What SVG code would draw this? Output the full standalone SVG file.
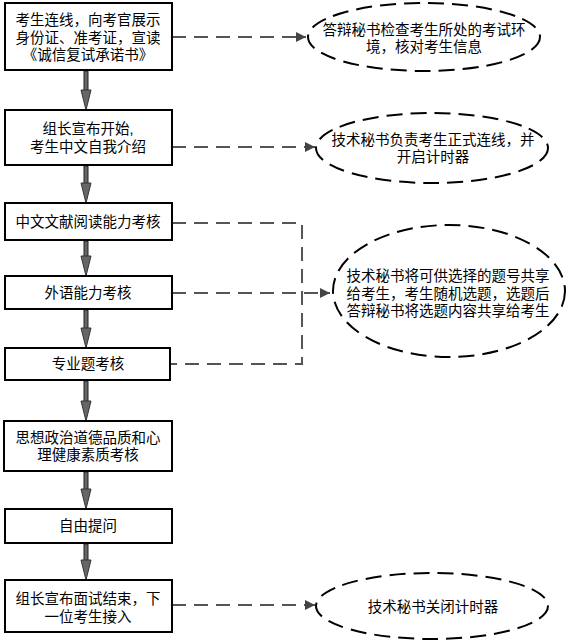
<svg xmlns="http://www.w3.org/2000/svg" width="566" height="641" viewBox="0 0 566 641">
<style>
.box{fill:#fff;stroke:#000;stroke-width:2}
.ell{fill:#fff;stroke:#000;stroke-width:2;stroke-dasharray:16 8}
.t{font-family:"Liberation Sans","Noto Sans CJK SC",sans-serif;font-size:14.5px;fill:#000;text-anchor:middle;dominant-baseline:central}
.dash{fill:none;stroke:#555;stroke-width:2;stroke-dasharray:14 8}
.shaft{fill:#666;stroke:#222;stroke-width:1}
.head{fill:#666;stroke:#333;stroke-width:1}
</style>
<defs>
<marker id="ah" viewBox="0 0 10 10" refX="10" refY="5" markerWidth="5" markerHeight="5" orient="auto" markerUnits="strokeWidth">
<path d="M0,0 L10,5 L0,10 Z" fill="#444"/>
</marker>
</defs>
<rect width="566" height="641" fill="#fff"/>
<g id="connectors">
<path class="dash" d="M172 37 H306" marker-end="url(#ah)"/>
<path class="dash" d="M172 147 H315" marker-end="url(#ah)"/>
<path class="dash" d="M172 223 H302 V364 H170"/>
<path class="dash" d="M172 293 H330" marker-end="url(#ah)"/>
<path class="dash" d="M172 605 H315" marker-end="url(#ah)"/>
<g id="flow-arrows">
<rect class="shaft" x="84" y="71" width="4" height="20"/><path class="head" d="M81 90 H91 L86 110 Z"/>
<rect class="shaft" x="84" y="166" width="4" height="18"/><path class="head" d="M81 183 H91 L86 203 Z"/>
<rect class="shaft" x="84" y="241" width="4" height="16"/><path class="head" d="M81 256 H91 L86 276 Z"/>
<rect class="shaft" x="84" y="310" width="4" height="19"/><path class="head" d="M81 328 H91 L86 348 Z"/>
<rect class="shaft" x="84" y="381" width="4" height="21"/><path class="head" d="M81 401 H91 L86 421 Z"/>
<rect class="shaft" x="84" y="472" width="4" height="18"/><path class="head" d="M81 489 H91 L86 509 Z"/>
<rect class="shaft" x="84" y="544" width="4" height="17"/><path class="head" d="M81 560 H91 L86 580 Z"/>
</g>
</g>
<g id="n1"><rect class="box" x="5" y="3" width="167" height="67"/>
<text class="t"><tspan x="88" y="20">考生连线，向考官展示</tspan><tspan x="88" y="37.5">身份证、准考证，宣读</tspan><tspan x="88" y="55">《诚信复试承诺书》</tspan></text></g>
<g id="n2"><rect class="box" x="5" y="110" width="167" height="55"/>
<text class="t"><tspan x="88" y="128.5">组长宣布开始,</tspan><tspan x="88" y="146.5">考生中文自我介绍</tspan></text></g>
<g id="n3"><rect class="box" x="5" y="203" width="167" height="37"/>
<text class="t" x="88" y="222">中文文献阅读能力考核</text></g>
<g id="n4"><rect class="box" x="5" y="276" width="167" height="33"/>
<text class="t" x="88" y="293">外语能力考核</text></g>
<g id="n5"><rect class="box" x="5" y="348" width="165" height="32"/>
<text class="t" x="88" y="364">专业题考核</text></g>
<g id="n6"><rect class="box" x="4" y="421" width="168" height="50"/>
<text class="t"><tspan x="88" y="437.5">思想政治道德品质和心</tspan><tspan x="88" y="455">理健康素质考核</tspan></text></g>
<g id="n7"><rect class="box" x="5" y="509" width="167" height="34"/>
<text class="t" x="88" y="526">自由提问</text></g>
<g id="n8"><rect class="box" x="5" y="580" width="167" height="52"/>
<text class="t"><tspan x="88" y="599">组长宣布面试结束，下</tspan><tspan x="88" y="617">一位考生接入</tspan></text></g>
<g id="e1"><ellipse class="ell" cx="424" cy="37" rx="116" ry="34"/>
<text class="t"><tspan x="424" y="29.5">答辩秘书检查考生所处的考试环</tspan><tspan x="424" y="47">境，核对考生信息</tspan></text></g>
<g id="e2"><ellipse class="ell" cx="432" cy="148" rx="116" ry="35"/>
<text class="t"><tspan x="433" y="139.5">技术秘书负责考生正式连线，并</tspan><tspan x="433" y="157">开启计时器</tspan></text></g>
<g id="e3"><ellipse class="ell" cx="449" cy="291" rx="116" ry="66"/>
<text class="t"><tspan x="448" y="276">技术秘书将可供选择的题号共享</tspan><tspan x="448" y="293.5">给考生，考生随机选题，选题后</tspan><tspan x="448" y="311">答辩秘书将选题内容共享给考生</tspan></text></g>
<g id="e4"><ellipse class="ell" cx="432" cy="606" rx="116" ry="33"/>
<text class="t" x="433" y="607">技术秘书关闭计时器</text></g>
</svg>
